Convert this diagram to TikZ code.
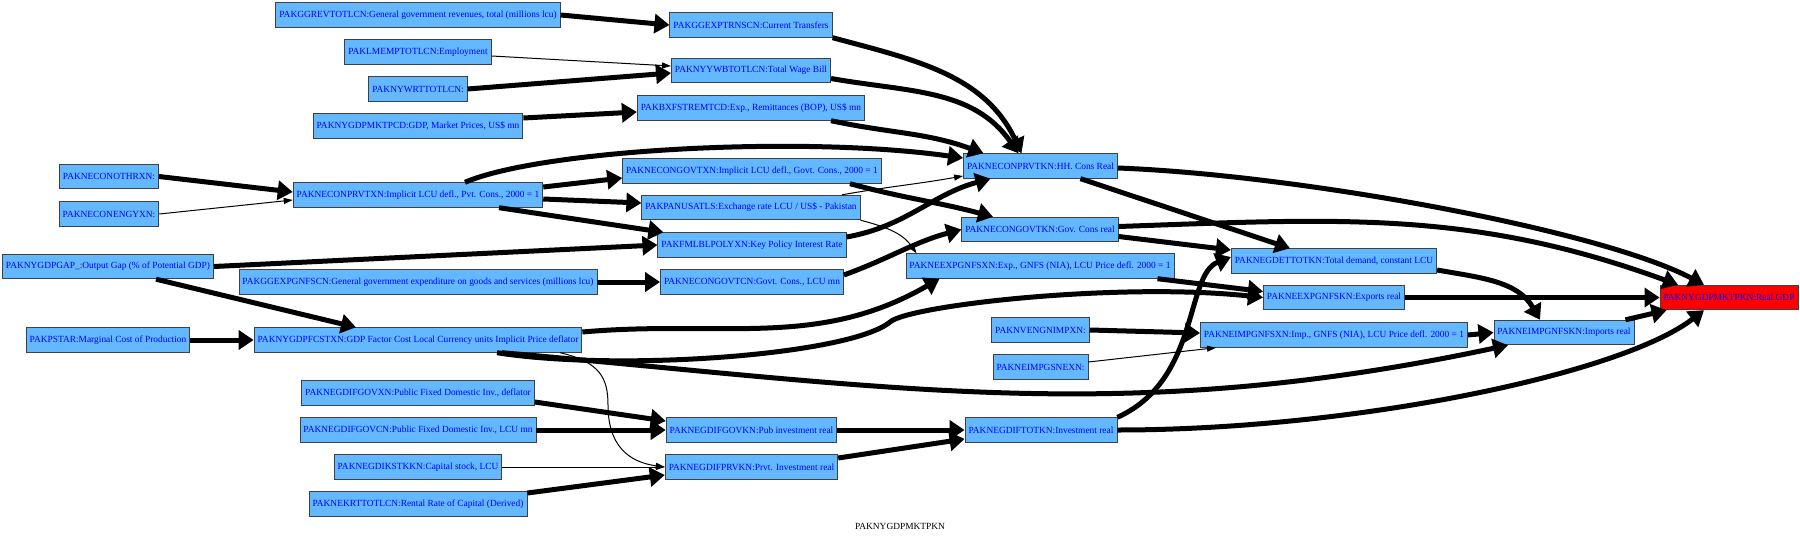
\documentclass[tikz,border=0pt]{standalone}
\usepackage{fontspec}
\setmainfont{Liberation Serif}
\usetikzlibrary{arrows.meta}
\definecolor{gvfill}{HTML}{63B8FF}
\definecolor{gvline}{HTML}{404040}
\definecolor{gvtext}{HTML}{0000FF}
\tikzset{
  gv box/.style={draw=gvline, line width=0.9pt, fill=gvfill, text=gvtext, font=\fontsize{9.4}{11}\selectfont,
                 minimum height=24.5pt, inner xsep=3.5pt, inner ysep=0pt},
  gv goal/.style={gv box, fill=red},
  gv arr/.style={-{Triangle[length=15pt, width=19pt]}, line width=5pt},
  gv thin/.style={-{Triangle[length=9pt, width=6pt]}, line width=1pt},
  gv title/.style={font=\fontsize{9.4}{11}\selectfont, inner sep=0pt},
}
\begin{document}
\begin{tikzpicture}[x=1pt, y=-1pt]
  \useasboundingbox[fill=white] (0,0) rectangle (1800,536);
  % column 0: outer inputs
  \node[gv box] (othr) at (109,176.5) {PAKNECONOTHRXN:};
  \node[gv box] (engy) at (109,214) {PAKNECONENGYXN:};
  \node[gv box] (gdpgap) at (108,266.5) {PAKNYGDPGAP\_:Output Gap (\% of Potential GDP)};
  \node[gv box] (pstar) at (108,340) {PAKPSTAR:Marginal Cost of Production};
  % column 1
  \node[gv box] (ggrev) at (418,15) {PAKGGREVTOTLCN:General government revenues, total (millions lcu)};
  \node[gv box] (lmemp) at (418,52) {PAKLMEMPTOTLCN:Employment};
  \node[gv box] (nywrt) at (418,89) {PAKNYWRTTOTLCN:};
  \node[gv box] (mktpcd) at (418,126) {PAKNYGDPMKTPCD:GDP, Market Prices, US\$ mn};
  \node[gv box] (prvtxn) at (418,195) {PAKNECONPRVTXN:Implicit LCU defl., Pvt. Cons., 2000 = 1};
  \node[gv box] (ggexpg) at (418,282) {PAKGGEXPGNFSCN:General government expenditure on goods and services (millions lcu)};
  \node[gv box] (fcstxn) at (418,340) {PAKNYGDPFCSTXN:GDP Factor Cost Local Currency units Implicit Price deflator};
  \node[gv box] (gdifgovxn) at (418,393) {PAKNEGDIFGOVXN:Public Fixed Domestic Inv., deflator};
  \node[gv box] (gdifgovcn) at (418,430) {PAKNEGDIFGOVCN:Public Fixed Domestic Inv., LCU mn};
  \node[gv box] (kstkkn) at (418,467) {PAKNEGDIKSTKKN:Capital stock, LCU};
  \node[gv box] (krttot) at (418,504) {PAKNEKRTTOTLCN:Rental Rate of Capital (Derived)};
  % column 2
  \node[gv box] (trns) at (751,25) {PAKGGEXPTRNSCN:Current Transfers};
  \node[gv box] (wbill) at (751,70.5) {PAKNYYWBTOTLCN:Total Wage Bill};
  \node[gv box] (remit) at (751,108) {PAKBXFSTREMTCD:Exp., Remittances (BOP), US\$ mn};
  \node[gv box] (govtxn) at (752,171) {PAKNECONGOVTXN:Implicit LCU defl., Govt. Cons., 2000 = 1};
  \node[gv box] (exrate) at (751,207.5) {PAKPANUSATLS:Exchange rate LCU / US\$ - Pakistan};
  \node[gv box] (policy) at (752,245) {PAKFMLBLPOLYXN:Key Policy Interest Rate};
  \node[gv box] (govtcn) at (752,282) {PAKNECONGOVTCN:Govt. Cons., LCU mn};
  \node[gv box] (pubinv) at (751.5,430) {PAKNEGDIFGOVKN:Pub investment real};
  \node[gv box] (prvinv) at (751.5,467) {PAKNEGDIFPRVKN:Prvt. Investment real};
  % column 3
  \node[gv box] (hhcons) at (1040.5,166) {PAKNECONPRVTKN:HH. Cons Real};
  \node[gv box] (govcons) at (1040,229.5) {PAKNECONGOVTKN:Gov. Cons real};
  \node[gv box] (expxn) at (1040,266) {PAKNEEXPGNFSXN:Exp., GNFS (NIA), LCU Price defl. 2000 = 1};
  \node[gv box] (vengn) at (1040.5,330) {PAKNVENGNIMPXN:};
  \node[gv box] (impsne) at (1040.5,367) {PAKNEIMPGSNEXN:};
  \node[gv box] (invtot) at (1041,430) {PAKNEGDIFTOTKN:Investment real};
  % columns 4 to 6
  \node[gv box] (demand) at (1334,261) {PAKNEGDETTOTKN:Total demand, constant LCU};
  \node[gv box] (exports) at (1334,297.5) {PAKNEEXPGNFSKN:Exports real};
  \node[gv box] (impxn) at (1334,335) {PAKNEIMPGNFSXN:Imp., GNFS (NIA), LCU Price defl. 2000 = 1};
  \node[gv box] (imports) at (1564,332.5) {PAKNEIMPGNFSKN:Imports real};
  \node[gv goal] (gdp) at (1729,297.5) {PAKNYGDPMKTPKN:Real GDP};
  \node[gv title] (title) at (900,526) {PAKNYGDPMKTPKN};
  % straight links
  \foreach \a/\b in {pstar/fcstxn, ggexpg/govtcn, gdifgovcn/pubinv, pubinv/invtot, exports/gdp, impxn/imports, gdpgap/policy, ggrev/trns}
    \draw[gv arr] (\a.east) -- (\b.west);
  \draw[gv arr] (othr.east) -- ([yshift=3pt]prvtxn.west);
  \draw[gv thin] (engy.east) -- ([yshift=-5pt]prvtxn.west);
  \draw[gv arr] ([xshift=-58pt]gdpgap.south east) -- ([xshift=-62pt]fcstxn.north);
  \draw[gv thin] ([yshift=-4pt]lmemp.east) -- ([yshift=4.5pt]wbill.west);
  \draw[gv arr] (nywrt.east) -- ([yshift=-2.5pt]wbill.west);
  \draw[gv arr] ([yshift=8pt]mktpcd.east) -- ([yshift=-4pt]remit.west);
  \draw[gv arr] ([yshift=8pt]prvtxn.east) -- ([yshift=-7pt]govtxn.west);
  \draw[gv arr] ([yshift=-4pt]prvtxn.east) -- ([yshift=4.5pt]exrate.west);
  \draw[gv arr] ([xshift=81pt]prvtxn.south) -- ([xshift=6pt]policy.north west);
  \draw[gv arr] ([yshift=-9pt]gdifgovxn.east) -- ([yshift=9pt]pubinv.west);
  \draw[gv thin] (kstkkn.east) -- (prvinv.west);
  \draw[gv arr] ([yshift=11pt]krttot.east) -- ([yshift=-8pt]prvinv.west);
  \draw[gv thin] ([xshift=142pt]fcstxn.south) .. controls (600,362) and (608,378) .. (608,405)
    .. controls (608,445) and (628,462) .. (prvinv.west);
  % into the consumption block
  \draw[gv arr] (trns.south east) to[out=-15, in=115] ([xshift=-19pt]hhcons.north);
  \draw[gv arr] ([yshift=-8pt]wbill.east) to[out=-10, in=125] ([xshift=-22pt]hhcons.north);
  \draw[gv arr] ([xshift=80pt]remit.south) to[out=-12, in=160] ([xshift=-57pt]hhcons.north);
  \draw[gv arr] ([xshift=47pt]prvtxn.north) .. controls (540,150) and (800,135) .. ([yshift=8pt]hhcons.west);
  \draw[gv arr] ([xshift=98pt]govtxn.south) to[out=-15, in=165] ([xshift=-47pt]govcons.north);
  \draw[gv thin] ([xshift=91pt]exrate.north) to[out=10, in=190] ([yshift=-10pt]hhcons.west);
  \draw[gv thin] (exrate.south east) to[out=-15, in=125] ([xshift=11pt]expxn.north west);
  \draw[gv arr] ([yshift=8pt]policy.east) to[out=10, in=195] ([xshift=-50pt]hhcons.south);
  \draw[gv arr] ([yshift=7pt]govtcn.east) to[out=20, in=195] (govcons.west);
  \draw[gv arr] ([yshift=9pt]prvinv.east) -- ([yshift=-9pt]invtot.west);
  % deflator links
  \draw[gv arr] ([yshift=8pt]fcstxn.east) to[out=5, in=210] ([xshift=34pt]expxn.south west);
  \draw[gv arr] ([xshift=79pt]fcstxn.south) .. controls (620,372) and (850,355) .. (890,322)
    .. controls (910,305) and (1120,282) .. (exports.west);
  \draw[gv arr] ([xshift=84pt]fcstxn.south) to[out=-5, in=192] ([xshift=-56pt]imports.south);
  % towards real GDP
  \draw[gv arr] ([yshift=-2pt]hhcons.east) .. controls (1300,175) and (1600,230) .. ([xshift=-25pt]gdp.north);
  \draw[gv arr] ([xshift=40pt]hhcons.south) -- ([xshift=-44pt]demand.north);
  \draw[gv arr] ([yshift=3pt]govcons.east) to[out=2, in=160] ([xshift=-51pt]gdp.north);
  \draw[gv arr] ([yshift=-7pt]govcons.east) -- ([yshift=11pt]demand.west);
  \draw[gv arr] ([xshift=-17pt]expxn.south east) -- ([yshift=6pt]exports.west);
  \draw[gv arr] (vengn.east) -- ([yshift=2pt]impxn.west);
  \draw[gv thin] ([yshift=5pt]impsne.east) -- ([xshift=16pt]impxn.south west);
  \draw[gv arr] (invtot.north east) .. controls (1200,380) and (1185,275) .. ([yshift=4pt]demand.west);
  \draw[gv arr] (invtot.east) .. controls (1350,430) and (1620,375) .. ([xshift=-25pt]gdp.south);
  \draw[gv arr] ([yshift=-9pt]demand.east) to[out=-10, in=120] ([xshift=-24pt]imports.north);
  \draw[gv arr] ([xshift=-9pt]imports.north east) -- ([xshift=7pt]gdp.south west);
\end{tikzpicture}
\end{document}
